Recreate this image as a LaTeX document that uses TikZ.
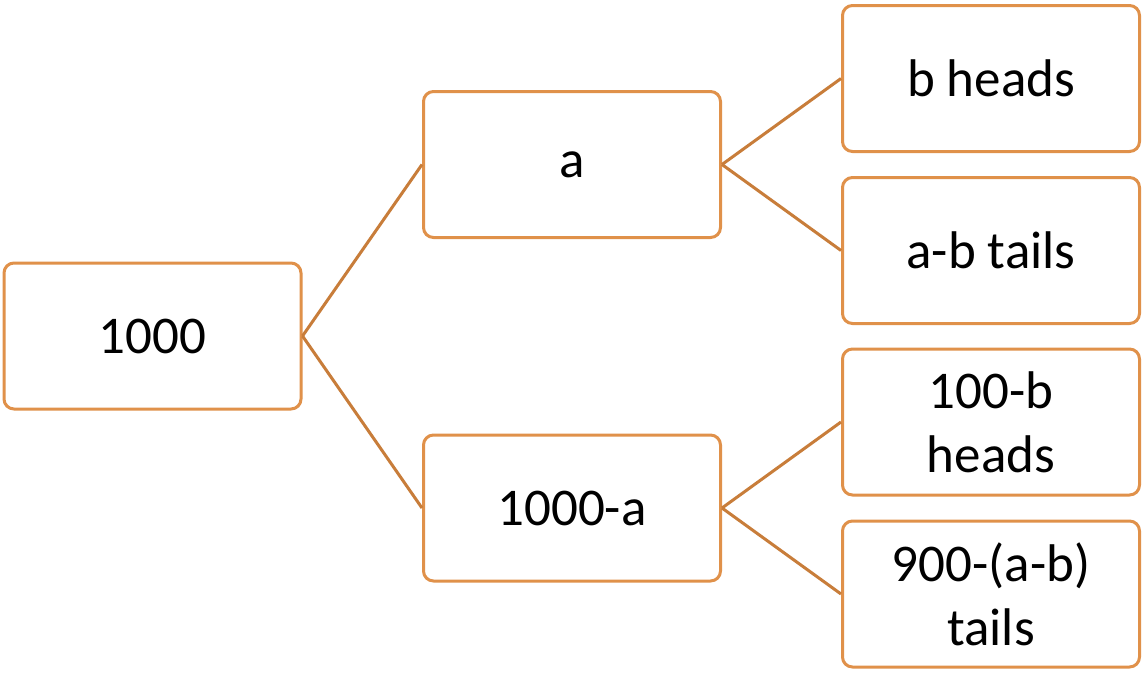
\documentclass[tikz,border=0pt]{standalone}
\usepackage{fontspec}
\setmainfont{Carlito}
\begin{document}
\begin{tikzpicture}[x=1pt,y=-1pt,
  box/.style={draw=boxc,line width=3pt,rounded corners=10pt,minimum width=297pt,minimum height=146pt,align=center,inner sep=0pt,font=\fontsize{53}{64}\selectfont},
  link/.style={draw=linec,line width=3pt}]
\definecolor{boxc}{HTML}{E0914A}
\definecolor{linec}{HTML}{C87D3A}
\useasboundingbox (0,0) rectangle (1143,672);
\fill[white] (0,0) rectangle (1143,672);
\node[box] (r) at (152.5,336) {1000};
\node[box] (a) at (572,164.5) {a};
\node[box] (na) at (572,508) {1000-a};
\node[box] (bh) at (991,78.5) {b heads};
\node[box] (abt) at (991,250.5) {a-b tails};
\node[box] (hb) at (991,422) {100-b\\heads};
\node[box] (t9) at (991,594) {900-(a-b)\\tails};
\draw[link] (r.east) -- (a.west);
\draw[link] (r.east) -- (na.west);
\draw[link] (a.east) -- (bh.west);
\draw[link] (a.east) -- (abt.west);
\draw[link] (na.east) -- (hb.west);
\draw[link] (na.east) -- (t9.west);
\end{tikzpicture}
\end{document}
